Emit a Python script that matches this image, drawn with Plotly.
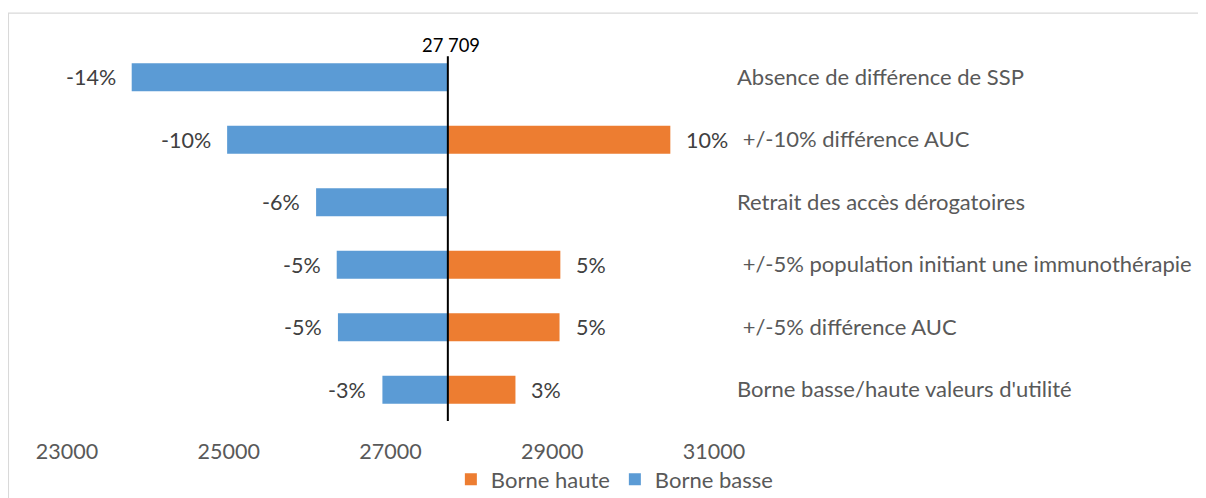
import plotly.graph_objects as go

# ---- data ----
categories = [
    "Absence de différence de SSP",
    "\u00a0+/-10% différence AUC",
    "Retrait des accès dérogatoires",
    "\u00a0+/-5% population initiant une immunothérapie",
    "\u00a0+/-5% différence AUC",
    "Borne basse/haute valeurs d'utilité",
]
base_value = 27709
low_values = [23800, 24980, 26080, 26335, 26350, 26900]
high_values = [27709, 30460, 27709, 29100, 29090, 28545]
low_labels = ["-14%", "-10%", "-6%", "-5%", "-5%", "-3%"]
high_labels = ["", "10%", "", "5%", "5%", "3%"]
x_ticks = [23000, 25000, 27000, 29000, 31000]

BLUE = "#5B9BD5"
ORANGE = "#ED7D31"
FONT = "Lato"

fig = go.Figure()
fig.add_trace(go.Bar(
    y=categories, x=[h - base_value for h in high_values], base=base_value,
    orientation="h", marker=dict(color=ORANGE, line=dict(width=0)),
    width=0.45, name="Borne haute", hoverinfo="skip",
))
fig.add_trace(go.Bar(
    y=categories, x=[l - base_value for l in low_values], base=base_value,
    orientation="h", marker=dict(color=BLUE, line=dict(width=0)),
    width=0.45, name="Borne basse", hoverinfo="skip",
))

annotations = []
for cat, lv, lt in zip(categories, low_values, low_labels):
    annotations.append(dict(x=lv, y=cat, xref="x", yref="y", text=lt, showarrow=False,
                            xanchor="right", xshift=-14,
                            font=dict(family=FONT, size=21.5, color="#404040")))
for cat, hv, ht in zip(categories, high_values, high_labels):
    if ht:
        annotations.append(dict(x=hv, y=cat, xref="x", yref="y", text=ht, showarrow=False,
                                xanchor="left", xshift=14,
                                font=dict(family=FONT, size=21.5, color="#404040")))
base_text = f"{base_value:,}".replace(",", " ")
annotations.append(dict(x=base_value, y=0.973, xref="x", yref="paper", text=base_text,
                        showarrow=False, xanchor="center", yanchor="bottom", xshift=3, yshift=-2,
                        font=dict(family=FONT, size=18.4, color="#000000")))
fig.update_layout(annotations=annotations)

fig.add_shape(type="line", xref="x", yref="paper", x0=base_value, x1=base_value,
              y0=0, y1=0.973, line=dict(color="#000000", width=2))
fig.add_shape(type="rect", xref="paper", yref="paper",
              x0=-0.0905, x1=2.0, y0=-1.0, y1=1.0875,
              line=dict(color="#D9D9D9", width=1.2), fillcolor="rgba(0,0,0,0)", layer="below")

fig.update_layout(
    width=1206, height=498,
    margin=dict(l=59, r=500, t=38, b=85, autoexpand=False),
    paper_bgcolor="white", plot_bgcolor="white",
    barmode="overlay",
    showlegend=True,
    legend=dict(orientation="h", x=0.846, xanchor="center", y=-0.156, yanchor="middle",
                bgcolor="rgba(0,0,0,0)",
                font=dict(family=FONT, size=22, color="#595959"), traceorder="normal"),
    xaxis=dict(range=[23000, 31000], tickvals=x_ticks, ticktext=[str(v) for v in x_ticks],
               showgrid=False, zeroline=False, showline=False, ticks="",
               tickfont=dict(family=FONT, size=21.5, color="#595959"), ticklabelstandoff=15),
    yaxis=dict(side="right", autorange="reversed", showgrid=False, zeroline=False,
               showline=False, ticks="", ticklabelstandoff=22,
               tickfont=dict(family=FONT, size=22, color="#595959")),
)

fig.write_html("out.html")
